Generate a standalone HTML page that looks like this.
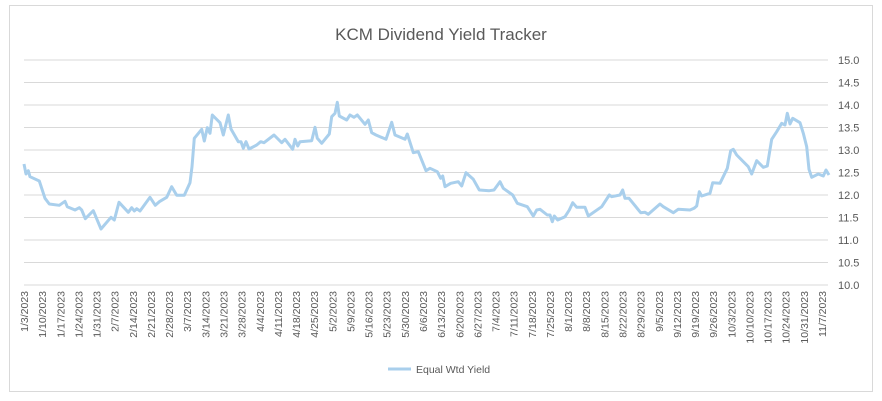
<!DOCTYPE html>
<html><head><meta charset="utf-8"><style>
body{margin:0;background:#fff;}
svg{display:block;font-family:"Liberation Sans",sans-serif;}
</style></head><body>
<svg width="882" height="401" viewBox="0 0 882 401" xmlns="http://www.w3.org/2000/svg">
<rect x="9.5" y="5.5" width="863" height="386" fill="#fff" stroke="#d9d9d9"/>
<text x="441" y="40" text-anchor="middle" font-size="17" fill="#595959">KCM Dividend Yield Tracker</text>
<g stroke="#d9d9d9" stroke-width="1">
<line x1="24" x2="828" y1="60" y2="60"/><line x1="24" x2="828" y1="82.5" y2="82.5"/>
<line x1="24" x2="828" y1="105" y2="105"/><line x1="24" x2="828" y1="127.5" y2="127.5"/>
<line x1="24" x2="828" y1="150" y2="150"/><line x1="24" x2="828" y1="172.5" y2="172.5"/>
<line x1="24" x2="828" y1="195" y2="195"/><line x1="24" x2="828" y1="217.5" y2="217.5"/>
<line x1="24" x2="828" y1="240" y2="240"/><line x1="24" x2="828" y1="262.5" y2="262.5"/>
<line x1="24" x2="828" y1="285" y2="285"/>
</g>
<g font-size="11" fill="#595959">
<text x="838" y="64">15.0</text><text x="838" y="86.5">14.5</text><text x="838" y="109">14.0</text>
<text x="838" y="131.5">13.5</text><text x="838" y="154">13.0</text><text x="838" y="176.5">12.5</text>
<text x="838" y="199">12.0</text><text x="838" y="221.5">11.5</text><text x="838" y="244">11.0</text>
<text x="838" y="266.5">10.5</text><text x="838" y="289">10.0</text>
</g>
<g font-size="10.5" fill="#595959" text-anchor="end" id="xl"></g>
<polyline fill="none" stroke="#a9cfec" stroke-width="3" stroke-linejoin="round" points="24,164 26,174 28.3,170.7 30,176.7 39.3,181 45,198.3 49.3,204 59.3,205.3 65,201.3 67.3,206.7 75,210 79.3,207.7 81.7,210 85.3,218.7 93.3,210.7 101,229 111,217.3 114.3,220 119,202.3 128.3,212.3 131.7,207.7 134.3,211 136.7,208.7 140,211 150,197.3 155.3,205.3 159.3,201.7 166.7,197.3 171.7,186.7 176.7,195.3 184.3,195.3 190,182.7 192,166.7 194.3,138.3 201.7,129.3 204.3,141 207.3,127.7 210,133.3 212.3,115 220,122.7 223.3,135 228.3,115 231,129 238.3,141.7 241,141.7 243.3,148.3 246,141.7 249,149 256.7,145 260.7,141.7 264,142.7 274,135 281.7,142.7 285,139.3 292.7,149.3 295,139.3 297.7,146 300,141.7 311.7,140.7 315,127.3 317.3,138.3 321.7,143.3 329.3,134 331.7,116.7 335,113.3 337.3,102.3 339.3,116 346.7,120 350,115 354,117.3 357.3,115 365,124.3 368.3,120 371.7,132.7 376,135 386,139.3 391.7,122.3 395,135 405,139.3 407.3,134 413.3,152.7 418.3,151.7 426,170.7 430,168.3 437.3,171.7 440.7,178.3 442.7,176 445,186.7 450.7,183.3 458.3,181.7 461.7,186 466,172.7 473.3,179.3 479.3,190 489.3,190.7 494,190 500,181.7 503.3,188.3 512.7,195 517.3,203.3 527.3,206.7 533.3,216 536.7,210 540,209.3 547.3,215 550,215 552.3,221.7 554.3,216 557.7,220 565,216.7 569.3,210 572.7,202.7 576.7,207.3 585,207.3 588.3,216 601.7,206.7 609.3,195 611.7,196.7 620,195 622.7,190 625,198.3 629,198.3 640.7,212.7 645,212.3 648.3,214.3 660,204 663.3,206.7 673.3,212.7 678.3,209.3 690,210 694,208.3 696.7,206 699.3,191.7 701.7,196 710,193.3 712.7,182.7 720,183.3 727.3,168.3 730.7,150.7 733.3,149.3 736.7,155 748.3,166.7 751.7,174 756.7,160.7 763.3,167.3 767.3,166 771.7,139.3 776.7,131.7 781.7,123.3 785,125 787.3,113.3 790,124 792.7,118.3 800,122.7 803.3,133.3 806.7,146.7 809,169.3 811.7,177.3 818.3,174 823.3,176 826,170 829,175"/>
<line x1="388" x2="411" y1="369" y2="369" stroke="#a9cfec" stroke-width="3"/>
<text x="416" y="373" font-size="10.5" fill="#595959">Equal Wtd Yield</text>
</svg>
<script>
(function(){
var g=document.getElementById('xl');
var d=new Date(2023,0,3);
for(var i=0;i<45;i++){
 var x=24+i*(822-24)/44;
 var s=(d.getMonth()+1)+'/'+d.getDate()+'/2023';
 var t=document.createElementNS('http://www.w3.org/2000/svg','text');
 t.setAttribute('transform','translate('+(x+4)+',291) rotate(-90)');
 t.textContent=s;g.appendChild(t);
 d.setDate(d.getDate()+7);
}
})();
</script>
</body></html>
